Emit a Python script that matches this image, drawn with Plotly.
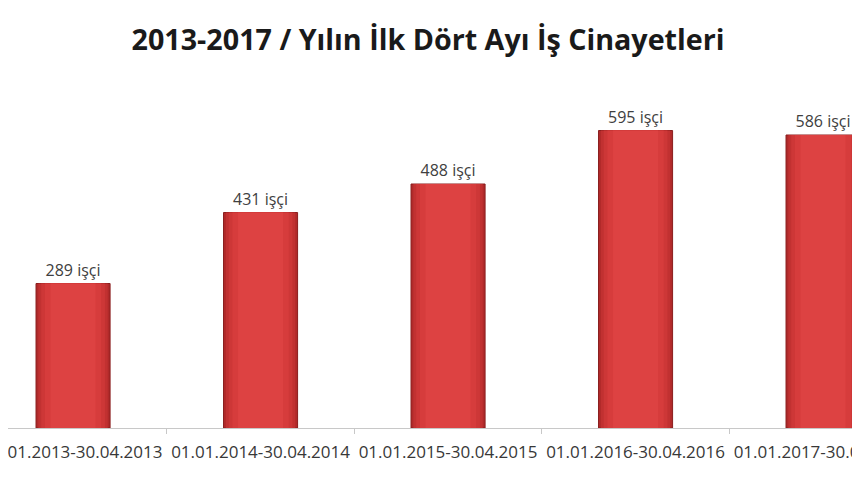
import plotly.graph_objects as go

categories = ["01.01.2013-30.04.2013", "01.01.2014-30.04.2014", "01.01.2015-30.04.2015",
              "01.01.2016-30.04.2016", "01.01.2017-30.04.2017"]
values = [289, 431, 488, 595, 586]
labels = [f"{v} işçi" for v in values]
title_text = "2013-2017 / Yılın İlk Dört Ayı İş Cinayetleri"

FONT = "Open Sans"

fig = go.Figure()
# outer (dark edge) bar carrying the data labels
fig.add_trace(go.Bar(
    x=categories, y=values, width=0.395,
    marker=dict(color="#b02a2a", line=dict(color="#8a1e1e", width=1)),
    text=labels, textposition="outside", cliponaxis=False,
    textfont=dict(family=FONT, size=16, color="#404040"),
    hoverinfo="skip", showlegend=False,
))
# inner lighter layers to imitate the horizontal gradient
for w, c in [(0.37, "#c13131"), (0.34, "#cd3737"), (0.30, "#d63c3c"), (0.24, "#dd4242")]:
    fig.add_trace(go.Bar(
        x=categories, y=values, width=w,
        marker=dict(color=c, line=dict(width=0)),
        hoverinfo="skip", showlegend=False,
    ))

fig.update_layout(
    width=852, height=472,
    template="none",
    barmode="overlay",
    paper_bgcolor="white", plot_bgcolor="white",
    margin=dict(l=0, r=0, t=62, b=52),
    title=dict(text=f"<b>{title_text}</b>", x=0.493, xanchor="center", y=1 - 32 / 472, yanchor="middle",
               font=dict(family=FONT, size=28.7, color="#1a1a1a")),
    xaxis=dict(
        range=[-0.347, 4.197], automargin=False,
        showline=True, linecolor="#c8c8c8", linewidth=1,
        ticks="outside", tickson="boundaries", ticklen=5, tickcolor="#c8c8c8",
        tickangle=0,
        tickfont=dict(family=FONT, size=17, color="#383838"),
        ticklabelstandoff=9,
        showgrid=False, zeroline=False, fixedrange=True,
    ),
    yaxis=dict(range=[0, 716], visible=False, showgrid=False, zeroline=False, automargin=False),
)

fig.write_html("out.html")
